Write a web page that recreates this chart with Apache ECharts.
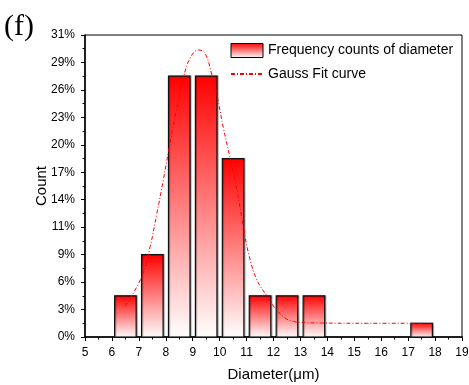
<!DOCTYPE html>
<html>
<head>
<meta charset="utf-8">
<script src="https://cdn.jsdelivr.net/npm/echarts@6/dist/echarts.min.js"></script>
<style>
html,body{margin:0;padding:0;background:#fff;}
#c{width:469px;height:385px;}
</style>
</head>
<body>
<div id="c"></div>
<script>
// Histogram bins (diameter, µm) and counts
var binStart = [6, 7, 8, 9, 10, 11, 12, 13, 17];
var binEnd   = [7, 8, 9, 10, 11, 12, 13, 14, 18];
var counts   = [3, 6, 19, 19, 13, 3, 3, 3, 1];
var TOTAL = 70;
// Gauss fit curve (x in µm, y in counts)
var fitX = [6.49, 7.11, 7.42, 7.67, 7.91, 8.10, 8.41, 8.65, 8.90, 9.21, 9.46, 9.71, 9.90, 10.14, 10.39, 10.64, 10.88, 11.07, 11.38, 11.81, 12.06, 12.43, 12.74, 12.99, 13.74, 15.5, 17.5];
var fitY = [2.23, 4.41, 6.59, 9.02, 11.45, 13.51, 16.67, 18.85, 20.31, 20.91, 20.67, 19.09, 17.63, 15.21, 13.03, 10.72, 8.05, 6.11, 4.17, 2.84, 2.10, 1.38, 1.14, 1.06, 1.02, 1.00, 1.00];
var xTicks = [5, 19, 1];
var yTicks = [0, 22, 2];

var barData = binStart.map(function (s, i) { return [s, binEnd[i], counts[i]]; });
var fitData = fitX.map(function (x, i) { return [x, fitY[i]]; });

function grad() {
  return new echarts.graphic.LinearGradient(0, 0, 0, 1, [
    { offset: 0, color: '#ff0000' },
    { offset: 1, color: '#ffffff' }
  ]);
}

var chart = echarts.init(document.getElementById('c'), null, { renderer: 'canvas' });
var FONT = 'Liberation Sans, Arial, sans-serif';
chart.setOption({
  animation: false,
  backgroundColor: '#fff',
  grid: { left: 85, right: 7, top: 35, bottom: 48, show: true, borderColor: '#000', borderWidth: 1, outerBoundsMode: 'none', containLabel: false },
  legend: {
    orient: 'vertical', left: 225, top: 38, itemWidth: 32, itemHeight: 14, itemGap: 9,
    textStyle: { fontFamily: FONT, fontSize: 14, color: '#000' },
    data: [
      { name: 'Frequency counts of diameter', icon: 'rect', itemStyle: { color: grad(), borderColor: '#000', borderWidth: 1 } },
      { name: 'Gauss Fit curve', icon: 'inherit', itemStyle: { opacity: 0 } }
    ]
  },
  xAxis: {
    type: 'value', min: xTicks[0], max: xTicks[1], interval: xTicks[2],
    name: 'Diameter(μm)', nameLocation: 'middle', nameGap: 30, nameMoveOverlap: false,
    nameTextStyle: { fontFamily: FONT, fontSize: 15, color: '#000' },
    axisLine: { show: true, onZero: false, lineStyle: { color: '#000', width: 1.5 } },
    axisTick: { show: true, inside: false, length: 4, lineStyle: { color: '#000' } },
    minorTick: { show: true, splitNumber: 2, length: 2.5, lineStyle: { color: '#000' } },
    splitLine: { show: false },
    axisLabel: { fontFamily: FONT, fontSize: 12, color: '#000', margin: 10 }
  },
  yAxis: {
    type: 'value', min: yTicks[0], max: yTicks[1], interval: yTicks[2],
    name: 'Count', nameLocation: 'middle', nameGap: 36, nameRotate: 90, nameMoveOverlap: false,
    nameTextStyle: { fontFamily: FONT, fontSize: 15, color: '#000' },
    axisLine: { show: true, lineStyle: { color: '#000', width: 1.5 } },
    axisTick: { show: true, inside: false, length: 4, lineStyle: { color: '#000' } },
    minorTick: { show: true, splitNumber: 2, length: 2.5, lineStyle: { color: '#000' } },
    splitLine: { show: false },
    axisLabel: {
      fontFamily: FONT, fontSize: 12, color: '#000', margin: 10,
      formatter: function (v) { return Math.round(v / TOTAL * 100) + '%'; }
    }
  },
  series: [
    {
      name: 'Frequency counts of diameter',
      type: 'custom',
      data: barData,
      itemStyle: { color: '#ff0000' },
      renderItem: function (params, api) {
        var s = api.value(0), e = api.value(1), v = api.value(2);
        var p1 = api.coord([s + 0.1, v]);
        var p2 = api.coord([e - 0.1, 0]);
        return {
          type: 'rect',
          shape: { x: p1[0], y: p1[1], width: p2[0] - p1[0], height: p2[1] - p1[1] },
          style: { fill: grad(), stroke: '#111', lineWidth: 1.2, shadowColor: 'rgba(0,0,0,0.35)', shadowOffsetX: 1, shadowBlur: 1 }
        };
      },
      encode: { x: [0, 1], y: 2 },
      z: 2
    },
    {
      name: 'Gauss Fit curve',
      type: 'line',
      data: fitData,
      smooth: 0.4,
      symbol: 'none',
      showSymbol: false,
      lineStyle: { color: '#ff0000', width: 1, type: [4, 2, 1, 2] },
      itemStyle: { color: '#ff0000' },
      z: 5
    }
  ],
  graphic: [
    { type: 'text', left: 4, top: 12, style: { text: '(f)', fontFamily: 'Liberation Serif, Times New Roman, serif', fontSize: 30, fill: '#000' } }
  ]
});
</script>
</body>
</html>
